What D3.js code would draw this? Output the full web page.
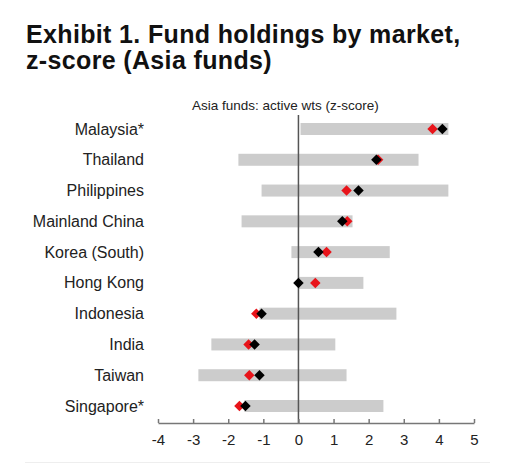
<!DOCTYPE html>
<html>
<head>
<meta charset="utf-8">
<script src="https://cdn.jsdelivr.net/npm/d3@7"></script>
<style>
  body { margin: 0; background: #fff; }
  text { font-family: "Liberation Sans", Arial, sans-serif; }
</style>
</head>
<body>
<div id="chart"></div>
<script>
// markets, top to bottom
const markets = ["Malaysia*", "Thailand", "Philippines", "Mainland China", "Korea (South)",
  "Hong Kong", "Indonesia", "India", "Taiwan", "Singapore*"];
// grey bar: historical range of the z-score
const rangeLow = [0.06, -1.71, -1.05, -1.62, -0.2, 0.0, -1.11, -2.48, -2.85, -1.54];
const rangeHigh = [4.27, 3.42, 4.27, 1.54, 2.6, 1.85, 2.79, 1.05, 1.37, 2.42];
// red diamonds and black diamonds
const redVals = [3.82, 2.27, 1.37, 1.39, 0.8, 0.48, -1.2, -1.42, -1.4, -1.68];
const blackVals = [4.1, 2.22, 1.71, 1.25, 0.57, 0.0, -1.05, -1.25, -1.11, -1.51];
const xTicks = [-4, -3, -2, -1, 0, 1, 2, 3, 4, 5];

const width = 515, height = 464;
const svg = d3.select("#chart").append("svg")
  .attr("width", width).attr("height", height);

// title
const title = svg.append("text")
  .attr("x", 26).attr("y", 43)
  .attr("font-size", 25).attr("font-weight", "bold")
  .attr("letter-spacing", 0.35).attr("fill", "#111");
title.append("tspan").attr("x", 26).text("Exhibit 1. Fund holdings by market,");
title.append("tspan").attr("x", 26).attr("dy", 26).text("z-score (Asia funds)");

// scales
const x = d3.scaleLinear().domain([-4, 5]).range([158, 474]);
const y = d3.scalePoint().domain(markets).range([129, 406]);
const axisY = 423;

// subtitle above plot
svg.append("text")
  .attr("x", 192).attr("y", 110)
  .attr("font-size", 13.5).attr("fill", "#222")
  .text("Asia funds: active wts (z-score)");

// range bars
svg.append("g").selectAll("rect")
  .data(markets)
  .join("rect")
  .attr("x", (d, i) => x(rangeLow[i]))
  .attr("y", d => y(d) - 6)
  .attr("width", (d, i) => x(rangeHigh[i]) - x(rangeLow[i]))
  .attr("height", 12)
  .attr("fill", "#cccccc");

// zero line
svg.append("line")
  .attr("x1", x(0)).attr("x2", x(0))
  .attr("y1", 115).attr("y2", axisY)
  .attr("stroke", "#555").attr("stroke-width", 1.5);

// diamonds
const diamond = d3.symbol().type(d3.symbolDiamond2).size(70);
svg.append("g").selectAll("path")
  .data(markets)
  .join("path")
  .attr("d", diamond)
  .attr("transform", (d, i) => `translate(${x(redVals[i])},${y(d)})`)
  .attr("fill", "#e8141a");
svg.append("g").selectAll("path")
  .data(markets)
  .join("path")
  .attr("d", diamond)
  .attr("transform", (d, i) => `translate(${x(blackVals[i])},${y(d)})`)
  .attr("fill", "#000");

// market labels
svg.append("g").selectAll("text")
  .data(markets)
  .join("text")
  .attr("x", 144)
  .attr("y", d => y(d))
  .attr("dy", "0.35em")
  .attr("text-anchor", "end")
  .attr("font-size", 16)
  .attr("fill", "#222")
  .text(d => d);

// x axis
const AxisX = svg.append("g").attr("transform", `translate(0,${axisY})`);
AxisX.call(d3.axisBottom(x).tickValues(xTicks).tickFormat(d3.format("d"))
  .tickSizeInner(-4).tickSizeOuter(0).tickPadding(11));
AxisX.select(".domain").attr("stroke", "#777").attr("stroke-width", 1.5);
AxisX.selectAll(".tick line").attr("stroke", "#777").attr("stroke-width", 1.5);
AxisX.selectAll(".tick text")
  .attr("font-size", 15).attr("fill", "#222")
  .attr("font-family", "Liberation Sans, Arial, sans-serif")
  .text(d => d < 0 ? "-" + Math.abs(d) : d);

// faint bottom rule
svg.append("line")
  .attr("x1", 25).attr("x2", 490)
  .attr("y1", 462.5).attr("y2", 462.5)
  .attr("stroke", "#eeeeee");
</script>
</body>
</html>
